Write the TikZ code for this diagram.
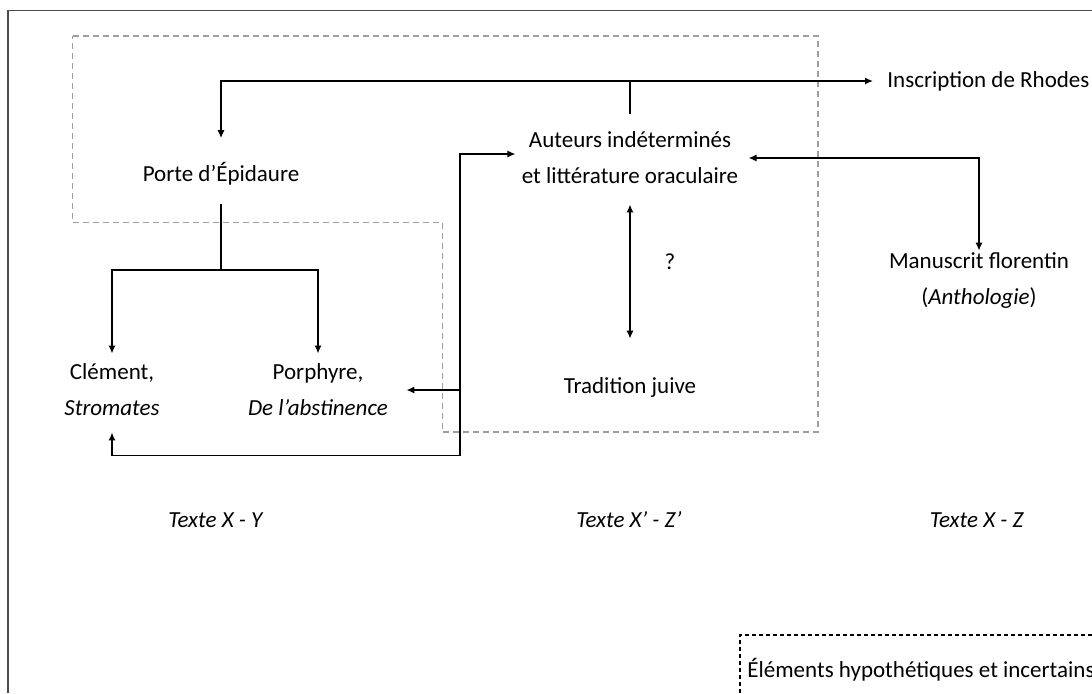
\documentclass[tikz,border=0pt]{standalone}
\usepackage{fontspec}
\setmainfont{Carlito}
\usetikzlibrary{arrows.meta}

\begin{document}
\begin{tikzpicture}[x=0.5pt, y=-0.5pt,
        txt/.style = {inner sep=0pt, align=center, font=\fontsize{11.5}{18}\selectfont},
        arr/.style = {-{Latex[length=4pt,width=3.6pt]}, line width=0.8pt},
        both/.style = {{Latex[length=4pt,width=3.6pt]}-{Latex[length=4pt,width=3.6pt]}, line width=0.8pt},
        link/.style = {line width=0.8pt},
        zone/.style = {draw=gray!75, dash pattern=on 3pt off 2pt, line width=0.6pt}]
    \useasboundingbox (0,0) rectangle (1092,693);
    \clip (0,0) rectangle (1092,693);
    \draw[black!70, line width=0.7pt] (8,693) -- (8,10.5) -- (1092,10.5);

    % zone of uncertain elements
    \draw[zone] (72.6,36) -- (818,36) -- (818,432) -- (442.6,432) -- (442.6,222.7) -- (72.6,222.7) -- cycle;
    \draw[dash pattern=on 2pt off 1.5pt, line width=0.6pt] (740,693) -- (740,635) -- (1092,635);

    \node[txt] (porte) at (221,174) {Porte d’Épidaure};
    \node[txt] (auteurs) at (630,158) {Auteurs indéterminés\\et littérature oraculaire};
    \node[txt, anchor=west] (rhodes) at (887,81) {Inscription de Rhodes};
    \node[txt] (clement) at (112,390) {Clément,\\\textit{Stromates}};
    \node[txt] (porphyre) at (318,390) {Porphyre,\\\textit{De l’abstinence}};
    \node[txt] (tradition) at (630,387) {Tradition juive};
    \node[txt] (manuscrit) at (979,281) {Manuscrit florentin\\(\textit{Anthologie})};
    \node[txt] (doute) at (670,262) {?};
    \node[txt] (texteXY) at (216,520) {\textit{Texte X - Y}};
    \node[txt] (texteXZp) at (629,520) {\textit{Texte X’ - Z’}};
    \node[txt] (texteXZ) at (977,520) {\textit{Texte X - Z}};
    \node[txt, anchor=west] (legende) at (747,670) {Éléments hypothétiques et incertains};

    % top line
    \coordinate (hub) at (630,81);
    \draw[link] ([yshift=9pt]auteurs.north) -- (hub);
    \draw[arr] (hub) -| ([yshift=12pt]porte.north);
    \draw[arr] (hub) -- ([xshift=-7pt]rhodes.west);

    % Porte to Clement and Porphyre
    \coordinate (split) at (221,270);
    \draw[link] ([yshift=-9pt]porte.south) -- (split);
    \draw[arr] (split) -| ([yshift=5pt]clement.north);
    \draw[arr] (split) -| ([yshift=5pt]porphyre.north);

    \draw[both] ([xshift=5pt]auteurs.east) -| ([yshift=1pt]manuscrit.north);
    \draw[both] ([yshift=-10pt]auteurs.south) -- ([yshift=19pt]tradition.north);

    % left fork
    \coordinate (fork) at (460,455.5);
    \draw[arr] (fork) |- ([xshift=-3pt, yshift=2pt]auteurs.west);
    \draw[arr] (fork) -| ([yshift=-8pt]clement.south);
    \draw[arr] (fork |- porphyre.east) -- ([xshift=9pt]porphyre.east);
\end{tikzpicture}
\end{document}
